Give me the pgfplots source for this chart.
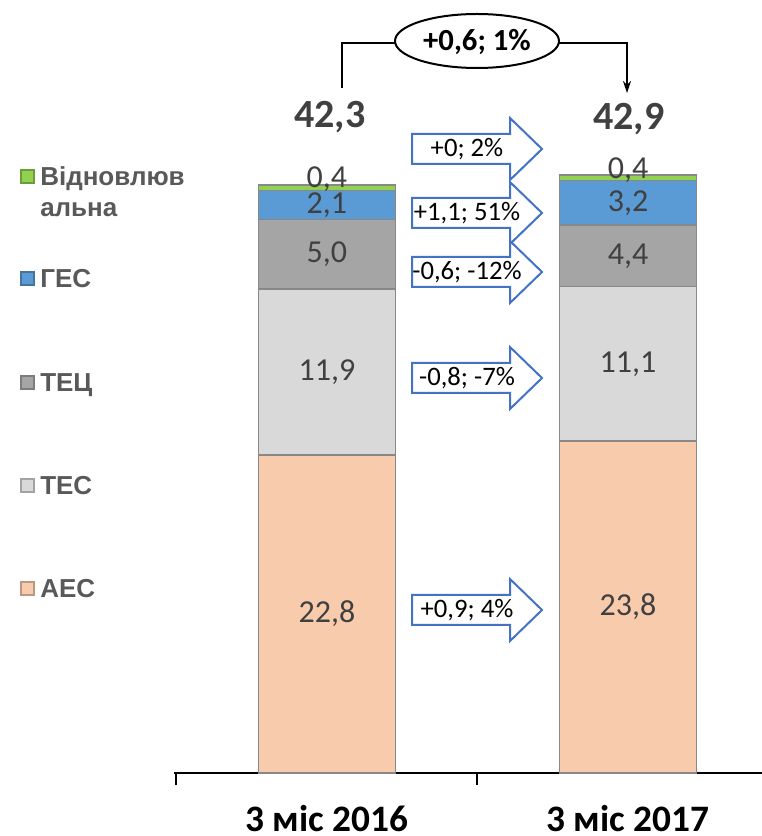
\documentclass[border=0pt]{standalone}
\usepackage{fontspec}
\setmainfont{Carlito}
\newfontfamily\arialfont{Liberation Sans}
\usepackage{pgfplots}
\pgfplotsset{compat=1.18}
\usetikzlibrary{arrows.meta}

\definecolor{aes}{HTML}{F8CBAD}
\definecolor{tes}{HTML}{D9D9D9}
\definecolor{tec}{HTML}{A5A5A5}
\definecolor{ges}{HTML}{5B9BD5}
\definecolor{ren}{HTML}{92D050}
\definecolor{edge}{HTML}{888888}
\definecolor{lab}{HTML}{404040}
\definecolor{legtxt}{HTML}{595959}
\definecolor{arrowblue}{HTML}{4472C4}

% block arrow at image pixel coords: #1 = centre y, #2 = text
\newcommand\blockarrow[2]{%
  \draw[arrowblue, line width=1.5pt, fill=white, line join=miter]
    (412,#1-15) -- (510,#1-15) -- (510,#1-31) -- (542,#1)
    -- (510,#1+31) -- (510,#1+15) -- (412,#1+15) -- cycle;
  \node[font=\fontsize{20}{24}\selectfont, text=black] at (467,#1) {#2};}

% legend entry: #1 = colour, #2 = baseline y, #3 = text
\newcommand\legfont{\arialfont\bfseries\fontsize{19.5}{23}\selectfont}
\newcommand\legentry[3]{%
  \filldraw[fill=#1, draw=#1!75!black, line width=1.2pt] (21,#2-16) rectangle (34,#2-3);
  \node[anchor=base west, inner sep=0pt, text=legtxt, font=\legfont] at (40,#2) {#3};}

\begin{document}
\begin{tikzpicture}
\begin{axis}[
  at={(130.5pt,47.25pt)}, anchor=south west,
  scale only axis, width=441pt, height=579pt,
  xmin=-0.508, xmax=1.445, ymin=0, ymax=55.38,
  ybar stacked, bar width=0.455,
  axis x line*=bottom, axis y line=none,
  x axis line style={line width=1.5pt, black},
  xtick={0,1}, xticklabels={3 міс 2016, 3 міс 2017},
  major tick length=0pt,
  extra x ticks={-0.5,0.5}, extra x tick labels={},
  extra x tick style={major tick length=9pt, tick align=outside,
    tick style={line width=1.5pt, black}},
  xticklabel style={font=\fontsize{28}{30}\selectfont\bfseries, text=black,
    inner sep=0pt, yshift=-24pt},
  nodes near coords, point meta=rawy,
  nodes near coords style={text=lab, font=\fontsize{24}{28}\selectfont,
    /pgf/number format/assume math mode=true,
    /pgf/number format/fixed, /pgf/number format/fixed zerofill,
    /pgf/number format/precision=1, /pgf/number format/use comma},
  every axis plot/.append style={draw=edge, line width=1.2pt},
  clip=false,
]
\addplot[fill=aes] coordinates {(0,22.8) (1,23.8)};
\addplot[fill=tes] coordinates {(0,11.9) (1,11.1)};
\addplot[fill=tec] coordinates {(0,5.0) (1,4.4)};
\addplot[fill=ges] coordinates {(0,2.1) (1,3.2)};
\addplot[fill=ren, every node near coord/.append style={yshift=6pt}] coordinates {(0,0.4) (1,0.4)};
\end{axis}

\begin{scope}[x=0.75pt, y=-0.75pt, shift={(0pt,627pt)}]
  % totals
  \node[text=lab, font=\fontsize{30}{34}\selectfont\bfseries] at (330,117) {42,3};
  \node[text=lab, font=\fontsize{30}{34}\selectfont\bfseries] at (629,119) {42,9};
  % overall change
  \draw[line width=1pt] (342,88) -- (342,43) -- (396,43);
  \draw[line width=1pt, -{Stealth[length=9pt, width=6pt]}] (558,43) -- (627,43) -- (627,93);
  \draw[line width=1.5pt, fill=white] (477,41) ellipse [x radius=82, y radius=27];
  \node[font=\fontsize{23}{27}\selectfont\bfseries] at (477,42) {+0,6; 1\%};
  % change arrows
  \blockarrow{149}{+0; 2\%}
  \blockarrow{213}{+1,1; 51\%}
  \blockarrow{272}{-0,6; -12\%}
  \blockarrow{378}{-0,8; -7\%}
  \blockarrow{610}{+0,9; 4\%}
  % legend
  \legentry{ren}{186}{Відновлюв}
  \node[anchor=base west, inner sep=0pt, text=legtxt, font=\legfont] at (40,217) {альна};
  \legentry{ges}{288}{ГЕС}
  \legentry{tec}{392}{ТЕЦ}
  \legentry{tes}{495}{ТЕС}
  \legentry{aes}{598}{АЕС}
\end{scope}

\pgfresetboundingbox
\path (0,0) rectangle (571.5pt,627pt);
\end{tikzpicture}
\end{document}
